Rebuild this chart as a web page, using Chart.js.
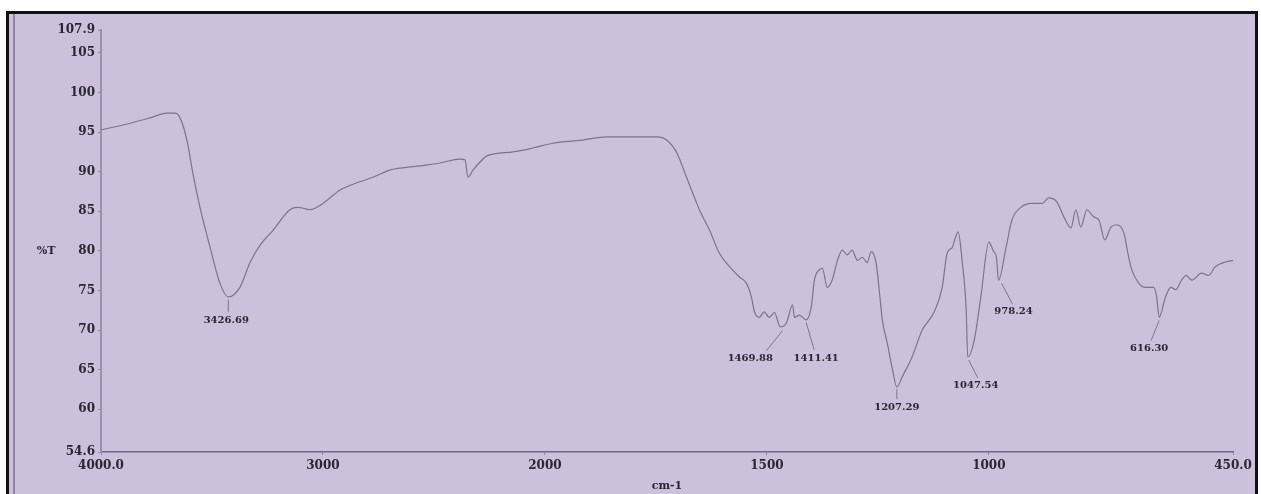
<!DOCTYPE html>
<html>
<head>
<meta charset="utf-8">
<title>FTIR spectrum</title>
<script src="https://cdn.jsdelivr.net/npm/chart.js@4/dist/chart.umd.min.js"></script>
<style>
  html, body { margin: 0; padding: 0; background: #ffffff; }
  body { width: 1261px; height: 494px; position: relative; overflow: hidden; }
  #frame {
    position: absolute; left: 6px; top: 11px; width: 1246px; height: 500px;
    border: 3px solid #111111; border-bottom: none;
    background: #ccc1dd;
    box-shadow: inset 4px 0 0 #ccc1dd, inset 6px 0 0 #8e889a;
  }
  #chart { position: absolute; left: 0; top: 0; }
</style>
</head>
<body>
<div id="frame"></div>
<canvas id="chart" width="1261" height="494"></canvas>
<script>
// Axis ticks (wavenumber in cm-1, transmittance in %T)
const X_TICKS = [4000, 3000, 2000, 1500, 1000, 450];
const X_TICK_LABELS = ['4000.0', '3000', '2000', '1500', '1000', '450.0'];
const Y_TICKS = [54.6, 60, 65, 70, 75, 80, 85, 90, 95, 100, 105, 107.9];
const Y_TICK_LABELS = ['54.6', '60', '65', '70', '75', '80', '85', '90', '95', '100', '105', '107.9'];

// Spectrum trace
const WAVENUMBER = [
  4000, 3901, 3779, 3703, 3667, 3644, 3613, 3586, 3554, 3509, 3464, 3426.69, 3374, 3329, 3284, 3225,
  3149, 3113, 3058, 3000, 2923, 2892, 2847, 2775, 2698, 2576, 2473, 2383, 2360, 2347, 2324, 2293,
  2261, 2144, 2054, 1982, 1915, 1861, 1802, 1748, 1726, 1703, 1681, 1658, 1652, 1629, 1607, 1584,
  1562, 1546, 1535, 1528, 1517, 1506, 1495, 1483, 1469.88, 1456, 1442, 1438, 1427, 1411.41, 1400, 1393,
  1382, 1375, 1364, 1353, 1341, 1330, 1319, 1308, 1296, 1285, 1274, 1265, 1254, 1247, 1240, 1229,
  1218, 1207.29, 1195, 1173, 1150, 1123, 1105, 1094, 1083, 1069, 1060, 1051, 1047.54, 1033, 1018, 1000,
  989, 983, 978.24, 961, 948, 928, 903, 880, 865, 847, 831, 815, 804, 793, 779, 764,
  752, 739, 725, 712, 696, 685, 678, 662, 647, 629, 622, 616.30, 602, 590, 579, 566,
  555, 543, 521, 505, 490, 467, 450
];
const TRANSMITTANCE = [
  95.3, 95.9, 96.8, 97.4, 97.4, 96.8, 94.0, 89.8, 85.5, 80.5, 75.9, 74.2, 75.4, 78.5, 80.7, 82.6,
  85.2, 85.5, 85.2, 86.0, 87.7, 88.1, 88.6, 89.3, 90.2, 90.7, 91.1, 91.6, 91.5, 89.3, 90.2, 91.2,
  92.0, 92.5, 93.0, 93.6, 94.0, 94.4, 94.4, 94.4, 94.0, 92.4, 89.3, 86.0, 85.2, 82.6, 79.7, 78.0,
  76.7, 75.9, 74.2, 72.3, 71.6, 72.3, 71.6, 72.2, 70.4, 70.9, 73.2, 71.6, 71.9, 71.3, 72.9, 76.3,
  77.6, 77.8, 75.4, 76.3, 78.8, 80.1, 79.5, 80.1, 78.8, 79.2, 78.5, 79.9, 78.5, 75.1, 71.3, 68.4,
  65.3, 62.8, 64.1, 66.6, 70.0, 72.3, 75.4, 79.7, 80.4, 82.4, 78.6, 72.5, 66.6, 68.7, 74.2, 81.1,
  79.9, 79.2, 76.3, 80.5, 83.9, 85.5, 86.0, 86.0, 86.7, 86.2, 84.3, 82.9, 85.2, 83.0, 85.2, 84.3,
  83.9, 81.4, 83.0, 83.3, 82.3, 79.2, 77.6, 75.9, 75.4, 75.4, 74.2, 71.6, 74.2, 75.4, 75.1, 76.3,
  76.9, 76.3, 77.2, 76.9, 78.0, 78.6, 78.8
];

// Annotated absorption bands
const PEAKS = [3426.69, 1469.88, 1411.41, 1207.29, 1047.54, 978.24, 616.30];
const PEAK_LABELS = ['3426.69', '1469.88', '1411.41', '1207.29', '1047.54', '978.24', '616.30'];

// Wavenumber axis with the usual 2x expansion below 2000 cm-1
const warp = w => (w >= 2000 ? 4000 - w : 2000 + 2 * (2000 - w));
const unwarp = u => (u <= 2000 ? 4000 - u : 2000 - (u - 2000) / 2);

class SplitWavenumberScale extends Chart.LinearScale {
  determineDataLimits() {
    this.min = warp(Math.max(...X_TICKS));
    this.max = warp(Math.min(...X_TICKS));
  }
  buildTicks() {
    return X_TICKS.map(v => ({ value: v }));
  }
  getPixelForValue(value) {
    return super.getPixelForValue(warp(value));
  }
  getValueForPixel(pixel) {
    return unwarp(super.getValueForPixel(pixel));
  }
}
SplitWavenumberScale.id = 'splitWavenumber';
SplitWavenumberScale.defaults = {};
Chart.register(SplitWavenumberScale);

const TEXT = '#2a2633';
const SERIF = '"DejaVu Serif", "Liberation Serif", serif';

// Band labels with leader lines: [leader start dx, dy, leader end dx, dy, text dx, dy]
const peakLabelPlugin = {
  id: 'peakLabels',
  afterDatasetsDraw(chart) {
    const { ctx, scales: { x, y } } = chart;
    const offsets = {
      '3426.69': [0, 3, 0, 15, -2, 24],
      '1469.88': [2, 4, -14, 24, -30, 32],
      '1411.41': [0, 3, 8, 30, 10, 39],
      '1207.29': [0, 2, 0, 12, 0, 20],
      '1047.54': [1, 3, 10, 21, 8, 28],
      '978.24': [3, 3, 14, 24, 15, 31],
      '616.30': [0, 3, -8, 23, -10, 31]
    };
    ctx.save();
    ctx.font = 'bold 10px ' + SERIF;
    ctx.textAlign = 'center';
    ctx.textBaseline = 'middle';
    PEAKS.forEach((w, i) => {
      const idx = WAVENUMBER.indexOf(w);
      const px = x.getPixelForValue(w);
      const py = y.getPixelForValue(TRANSMITTANCE[idx]);
      const o = offsets[PEAK_LABELS[i]];
      ctx.strokeStyle = '#7d7690';
      ctx.lineWidth = 1;
      ctx.beginPath();
      ctx.moveTo(px + o[0], py + o[1]);
      ctx.lineTo(px + o[2], py + o[3]);
      ctx.stroke();
      ctx.fillStyle = TEXT;
      ctx.fillText(PEAK_LABELS[i], px + o[4], py + o[5]);
    });
    ctx.restore();
  }
};

// Horizontal "%T" axis caption beside the 80 tick
const yCaptionPlugin = {
  id: 'yCaption',
  afterDraw(chart) {
    const { ctx, scales: { y } } = chart;
    ctx.save();
    ctx.font = 'bold 11px ' + SERIF;
    ctx.fillStyle = TEXT;
    ctx.textAlign = 'center';
    ctx.textBaseline = 'middle';
    ctx.fillText('%T', 46, y.getPixelForValue(80));
    ctx.restore();
  }
};

new Chart(document.getElementById('chart'), {
  type: 'line',
  data: {
    datasets: [{
      data: WAVENUMBER.map((w, i) => ({ x: w, y: TRANSMITTANCE[i] })),
      borderColor: '#7b748c',
      borderWidth: 1.2,
      pointRadius: 0,
      cubicInterpolationMode: 'monotone',
      fill: false
    }]
  },
  options: {
    responsive: false,
    animation: false,
    devicePixelRatio: 1,
    layout: { padding: { left: 0, right: 28, top: 30, bottom: 0 } },
    plugins: { legend: { display: false }, tooltip: { enabled: false } },
    scales: {
      x: {
        type: 'splitWavenumber',
        position: 'bottom',
        afterFit: s => { s.height = 42; },
        border: { display: true, color: '#6e6880', width: 1.5 },
        grid: { display: true, drawOnChartArea: false, drawTicks: true, tickLength: 3, color: '#8d86a0' },
        ticks: {
          autoSkip: false, maxRotation: 0, padding: 4, color: TEXT,
          font: { family: SERIF, size: 12, weight: 'bold' },
          callback: (v, i) => X_TICK_LABELS[i]
        },
        title: {
          display: true, text: 'cm-1', color: TEXT,
          font: { family: SERIF, size: 11, weight: 'bold' },
          padding: { top: 0, bottom: 1 }
        }
      },
      y: {
        type: 'linear',
        min: 54.6,
        max: 107.9,
        afterFit: s => { s.width = 101; },
        afterBuildTicks: s => { s.ticks = Y_TICKS.map(v => ({ value: v })); },
        border: { display: true, color: '#9a90b2', width: 2 },
        grid: { display: true, drawOnChartArea: false, drawTicks: true, tickLength: 3, color: '#8d86a0' },
        ticks: {
          autoSkip: false, padding: 3, color: TEXT,
          font: { family: SERIF, size: 12, weight: 'bold' },
          callback: v => Y_TICK_LABELS[Y_TICKS.indexOf(v)]
        }
      }
    }
  },
  plugins: [peakLabelPlugin, yCaptionPlugin]
});
</script>
</body>
</html>
